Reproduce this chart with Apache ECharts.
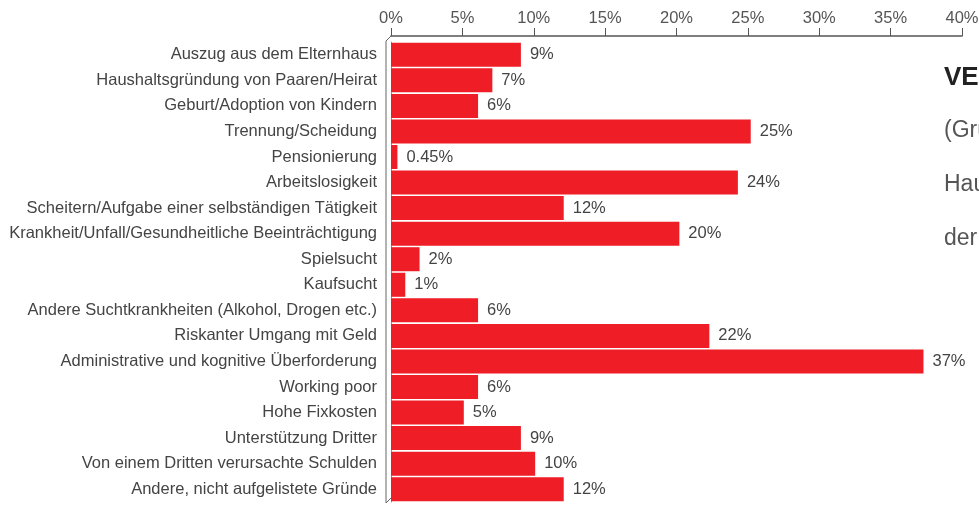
<!DOCTYPE html>
<html>
<head>
<meta charset="utf-8">
<script src="https://cdn.jsdelivr.net/npm/echarts@6/dist/echarts.min.js"></script>
<style>
    html, body {margin: 0; padding: 0; background: #fff;}
    #chart {width: 979px; height: 506px;}
</style>
</head>
<body>
<div id="chart"></div>
<script>
// Kategorien (von oben nach unten)
var categories = [
    "Auszug aus dem Elternhaus",
    "Haushaltsgründung von Paaren/Heirat",
    "Geburt/Adoption von Kindern",
    "Trennung/Scheidung",
    "Pensionierung",
    "Arbeitslosigkeit",
    "Scheitern/Aufgabe einer selbständigen Tätigkeit",
    "Krankheit/Unfall/Gesundheitliche Beeinträchtigung",
    "Spielsucht",
    "Kaufsucht",
    "Andere Suchtkrankheiten (Alkohol, Drogen etc.)",
    "Riskanter Umgang mit Geld",
    "Administrative und kognitive Überforderung",
    "Working poor",
    "Hohe Fixkosten",
    "Unterstützung Dritter",
    "Von einem Dritten verursachte Schulden",
    "Andere, nicht aufgelistete Gründe"
];
// Anteile in %, aus Balkenlänge geschätzt
var values = [9.1, 7.1, 6.1, 25.2, 0.45, 24.3, 12.1, 20.2, 2.0, 1.0, 6.1, 22.3, 37.3, 6.1, 5.1, 9.1, 10.1, 12.1];
// Beschriftungen wie im Original
var valueLabels = ["9%", "7%", "6%", "25%", "0.45%", "24%", "12%", "20%", "2%", "1%", "6%", "22%", "37%", "6%", "5%", "9%", "10%", "12%"];
var xTicks = [0, 40, 5];

var fontName = "Liberation Sans, Arial, sans-serif";
var myChart = echarts.init(document.getElementById("chart"));

var option = {
    animation: false,
    backgroundColor: "#fff",
    grid: {left: 391, right: 17, top: 42, bottom: 4, containLabel: false, outerBoundsMode: "none"},
    xAxis: {
        type: "value",
        position: "top",
        offset: 6,
        min: xTicks[0], max: xTicks[1], interval: xTicks[2],
        axisLine: {show: true, lineStyle: {color: "#555", width: 1.5}},
        axisTick: {show: true, length: 8, lineStyle: {color: "#555", width: 1}},
        axisLabel: {
            formatter: "{value}%", color: "#555", fontSize: 16.5,
            fontFamily: fontName, margin: 9
        },
        splitLine: {show: false}
    },
    yAxis: {
        type: "category",
        inverse: true,
        data: categories,
        axisLine: {show: true, lineStyle: {color: "#999", width: 1}},
        axisTick: {show: false},
        axisLabel: {color: "#444", fontSize: 16.5, fontFamily: fontName, margin: 14}
    },
    series: [{
        type: "bar",
        data: values,
        barCategoryGap: "6%",
        itemStyle: {color: "#ee1d26"},
        label: {
            show: true,
            position: "right",
            distance: 9,
            color: "#444",
            fontSize: 16.5,
            fontFamily: fontName,
            formatter: function (p) {
                return valueLabels[p.dataIndex];
            }
        }
    }],
    graphic: [
        // 3D-artige Wandkante links
        {
            type: "polyline",
            shape: {points: [[391, 36], [386, 41], [386, 503], [391, 498]]},
            style: {stroke: "#666", lineWidth: 1, fill: null}
        },
        {type: "text", left: 944, top: 65,
            style: {text: "VERSCHULDUNG", fill: "#222", font: "bold 26px " + fontName}},
        {type: "text", left: 944, top: 119,
            style: {text: "(Grundlage", fill: "#555", font: "23px " + fontName}},
        {type: "text", left: 944, top: 173,
            style: {text: "Haushalte", fill: "#555", font: "23px " + fontName}},
        {type: "text", left: 944, top: 227,
            style: {text: "der", fill: "#555", font: "23px " + fontName}}
    ]
};
myChart.setOption(option);
</script>
</body>
</html>
